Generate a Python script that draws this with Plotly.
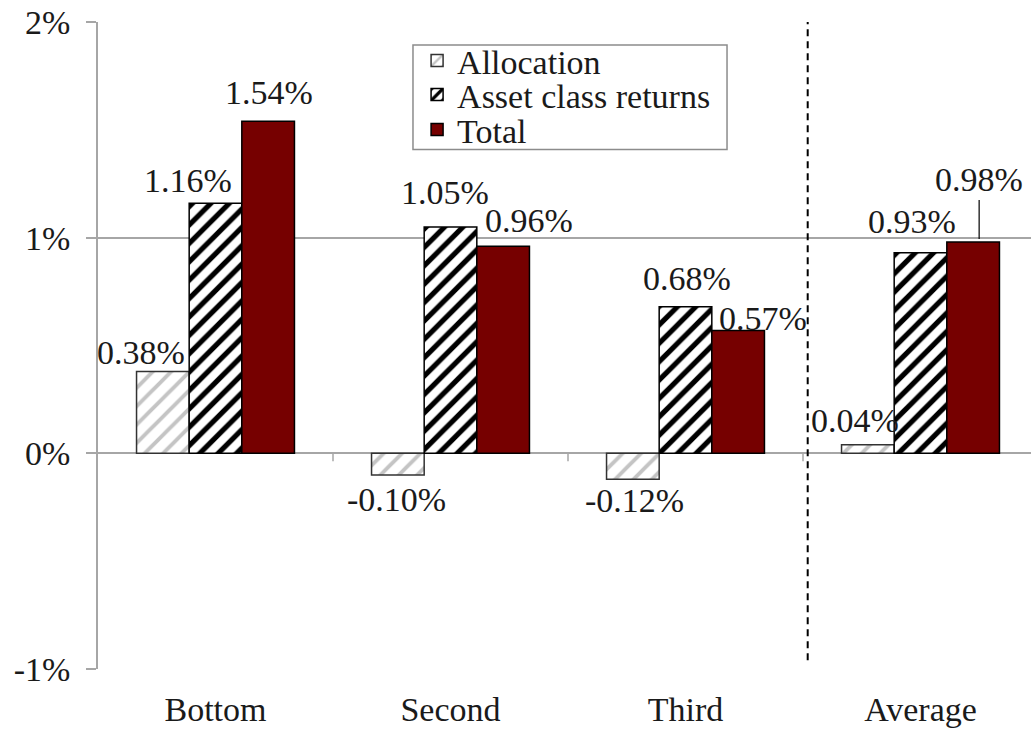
import plotly.graph_objects as go

categories = ["Bottom", "Second", "Third", "Average"]
allocation = [0.38, -0.10, -0.12, 0.04]
asset_class = [1.16, 1.05, 0.68, 0.93]
total = [1.54, 0.96, 0.57, 0.98]
series_names = ["Allocation", "Asset class returns", "Total"]
y_ticks = [-1, 0, 1, 2]
y_tick_text = ["-1%", "0%", "1%", "2%"]

# label offsets in pixels (dx, dy) relative to bar end, per series
label_shift = [
    [(-22, 19), (-1, -25), (2, -21), (-13, 24)],
    [(-28, 23), (-6, 34), (1, 28), (-9, 31)],
    [(1, 29), (26, 26), (25, 12), (6, 0)],
]

FONT = "Liberation Serif, Times New Roman, serif"
FS = 34
TXT = "#1a1a1a"
GRID = "#a6a6a6"
BARGAP = 0.328

xs = list(range(len(categories)))
series = [allocation, asset_class, total]
styles = [
    dict(color="white", line=dict(color="#333333", width=1.5),
         pattern=dict(shape="/", fgcolor="#c4c4c4", bgcolor="white", fgopacity=1,
                      size=13, solidity=0.3)),
    dict(color="white", line=dict(color="black", width=1.5),
         pattern=dict(shape="/", fgcolor="#000000", bgcolor="white", fgopacity=1,
                      size=13, solidity=0.4)),
    dict(color="#760000", line=dict(color="black", width=1.5)),
]

fig = go.Figure()
legends = ["legend", "legend2", "legend3"]
for k, (name, vals, st) in enumerate(zip(series_names, series, styles)):
    fig.add_trace(go.Bar(x=xs, y=vals, name=name, marker=st, legend=legends[k],
                         showlegend=True, hoverinfo="skip"))

bw = (1 - BARGAP) / 3
annotations = []
for k, vals in enumerate(series):
    for i, v in enumerate(vals):
        dx, dy = label_shift[k][i]
        x = i + (k - 1) * bw
        if k == 2 and i == 3:
            annotations.append(dict(x=x, y=v, xref="x", yref="y", text=f"{v:.2f}%",
                                    showarrow=True, arrowhead=0, arrowwidth=1.2,
                                    arrowcolor="black", ax=0, ay=-62, xshift=6,
                                    standoff=3, font=dict(family=FONT, size=FS, color=TXT)))
        else:
            annotations.append(dict(x=x, y=v, xref="x", yref="y", text=f"{v:.2f}%",
                                    showarrow=False, xshift=dx, yshift=dy,
                                    font=dict(family=FONT, size=FS, color=TXT)))

shapes = []
# small ticks on the zero line at category boundaries
for b in [0.5, 1.5, 2.5]:
    shapes.append(dict(type="line", xref="x", yref="y", x0=b, x1=b, ysizemode="pixel",
                       yanchor=0, y0=0, y1=-8, line=dict(color=GRID, width=1.5)))
# dashed separator
shapes.append(dict(type="line", xref="x", yref="y", x0=2.52, x1=2.52, y0=-0.96, y1=2,
                   line=dict(color="black", width=2, dash="7px,5px")))
# legend box
shapes.append(dict(type="rect", xref="paper", yref="paper", x0=0.3376, x1=0.6742,
                   y0=0.8030, y1=0.9645, line=dict(color="#8c8c8c", width=1.5),
                   fillcolor="white", layer="below"))

leg_common = dict(xanchor="left", yanchor="middle", bgcolor="rgba(0,0,0,0)",
                  borderwidth=0, font=dict(family=FONT, size=FS, color=TXT))
leg_y = [0.9400, 0.8872, 0.8331]

fig.update_layout(
    width=1031, height=730,
    margin=dict(l=98, r=0, t=22, b=61),
    paper_bgcolor="white", plot_bgcolor="white",
    barmode="group", bargap=BARGAP, bargroupgap=0,
    showlegend=True,
    font=dict(family=FONT, size=FS, color=TXT),
    legend=dict(x=0.342, y=leg_y[0], **leg_common),
    legend2=dict(x=0.342, y=leg_y[1], **leg_common),
    legend3=dict(x=0.342, y=leg_y[2], **leg_common),
    annotations=annotations,
    shapes=shapes,
    xaxis=dict(range=[-0.5, -0.5 + 933 / 235], tickvals=xs, ticktext=categories,
               showgrid=False, zeroline=False, showline=False, ticks="",
               ticklabelstandoff=17, tickfont=dict(family=FONT, size=FS, color=TXT)),
    yaxis=dict(range=[-1, 2], tickvals=y_ticks, ticktext=y_tick_text,
               showgrid=True, gridcolor=GRID, gridwidth=1.5,
               zeroline=True, zerolinecolor=GRID, zerolinewidth=1.5,
               showline=True, linecolor=GRID, linewidth=1.5,
               ticks="outside", ticklen=10, tickcolor=GRID, tickwidth=1.5,
               ticklabelstandoff=9, tickfont=dict(family=FONT, size=FS, color=TXT)),
)

fig.write_html("out.html")
